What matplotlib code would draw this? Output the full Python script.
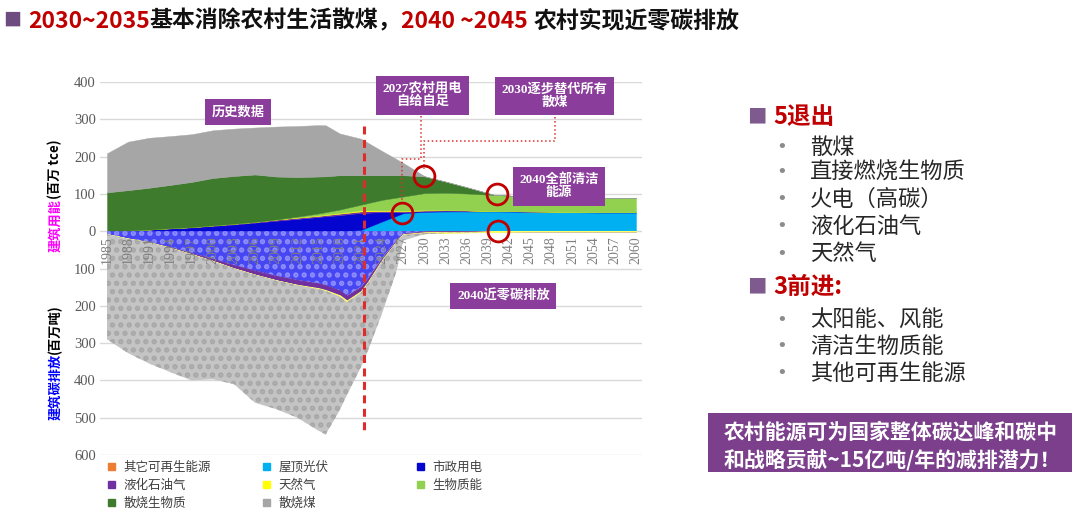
import numpy as np
import matplotlib.pyplot as plt
from matplotlib.patches import Patch, Rectangle
from matplotlib.transforms import IdentityTransform

plt.rcParams['font.family'] = ['Noto Sans CJK SC', 'DejaVu Sans']
plt.rcParams['hatch.linewidth'] = 2.6

# 建筑用能 (百万 tce), stacked bottom -> top
years = [1985, 1988, 1991, 1994, 1997, 2000, 2003, 2006, 2009, 2012, 2015, 2016, 2018,
         2021, 2024, 2027, 2030, 2033, 2036, 2040, 2045, 2050, 2055, 2060]
other_re = [0, 0, 0, 0, 0, 0, 0, 0, 0, 0, 0, 0, 0, 0, 1, 2, 2, 2, 2, 2, 2, 2, 2, 2]
rooftop_pv = [0, 0, 0, 0, 0, 0, 0, 0, 0, 0, 0, 0, 0, 3, 25, 46, 50, 51, 51, 51, 50, 49, 48, 48]
grid_power = [0, 2, 4, 7, 10, 14, 18, 23, 28, 33, 38, 40, 43, 46, 25, 3, 2, 2, 2, 1, 1, 1, 1, 1]
lpg = [0, 0, 0.5, 1, 1, 1.5, 2, 2, 3, 3, 3, 3, 4, 4, 3, 2, 1.5, 1, 0.5, 0, 0, 0, 0, 0]
natural_gas = [0, 0, 0, 0, 0, 0, 0, 0, 0.5, 1, 1.5, 2, 2, 3, 2, 2, 1.5, 1, 0.5, 0, 0, 0, 0, 0]
bio_energy = [0, 0, 0, 0, 0, 0, 0, 0, 0, 2, 5, 6, 9, 15, 28, 38, 45, 46, 45, 43, 40, 39, 38, 38]
loose_biomass = [104, 108, 112, 116, 121, 127, 128, 127, 115, 106, 99, 96, 92,
                 79, 66, 57, 45, 30, 17, 0, 0, 0, 0, 0]
loose_coal = [105, 130, 134, 131, 128, 128, 127, 126, 134, 137, 138, 137, 112,
              98, 65, 33, 1, 0, 0, 0, 0, 0, 0, 0]

# 建筑碳排放 (百万吨), stacked downward from 0
em_years = [1985, 1988, 1991, 1994, 1997, 2000, 2003, 2006, 2009, 2012, 2015, 2016, 2018, 2019,
            2021, 2022, 2024, 2026, 2027, 2030, 2033, 2036, 2040, 2045, 2060]
em_grid = [8, 20, 29, 43, 59, 74, 91, 106, 120, 131, 140, 145, 159, 173,
           149, 126, 72, 25, 6, 1, 0.5, 0.5, 0, 0, 0]
em_lpg = [0, 0, 1, 2, 3, 6, 9, 11, 12, 13, 13, 13, 13, 13, 12, 10, 5, 3, 2, 2, 2, 1.5, 0.5, 0, 0]
em_gas = [0, 0, 0, 0, 0, 0, 0, 0, 0, 1, 2, 2, 3, 4, 4, 4, 3, 2, 2, 2, 1.5, 1, 0.5, 0, 0]
em_coal = [282, 307, 325, 333, 338, 317, 310, 343, 345, 355, 380, 385, 305, 250,
           200, 180, 140, 80, 15, 3, 1, 1, 0, 0, 0]

labels = ['其它可再生能源', '屋顶光伏', '市政用电', '液化石油气', '天然气', '生物质能', '散烧生物质', '散烧煤']
colors = ['#ED7D31', '#00B0F0', '#0505D0', '#7030A0', '#FFFF00', '#92D050', '#3E7B2C', '#A6A6A6']

tick_years = list(range(1985, 2061, 3))
y_ticks = list(range(-600, 401, 100))

W, H = 1080, 521
fig = plt.figure(figsize=(W / 100, H / 100), dpi=100)
ax = fig.add_axes([100 / W, 1 - 455 / H, 542 / W, 373 / H])

for v in y_ticks:
    ax.axhline(v, color='#D9D9D9', lw=1, zorder=0)

ax.stackplot(years, other_re, rooftop_pv, grid_power, lpg, natural_gas, bio_energy,
             loose_biomass, loose_coal, colors=colors, edgecolor='face', lw=0.3)

em = ax.stackplot(em_years, -np.array(em_grid), -np.array(em_lpg), -np.array(em_gas),
                  -np.array(em_coal), colors=['#4646F2', '#7030A0', '#FFFF66', '#C4C4C4'],
                  hatch=['..', None, None, '..'], lw=0)
em[0].set_edgecolor('#8E8EFF')
em[3].set_edgecolor('#A8A8A8')
em[1].set_edgecolor('#7030A0')
em[1].set_linewidth(0.8)
em[2].set_edgecolor('#FFFF66')
em[2].set_linewidth(0.8)

ax.set_xlim(1985 - 7 / 7.05, 2060 + 6 / 7.05)
ax.set_ylim(-600, 400)
for s in ax.spines.values():
    s.set_visible(False)
ax.spines['bottom'].set_position(('data', 0))
ax.set_yticks(y_ticks)
ax.set_yticklabels([str(abs(v)) for v in y_ticks], fontfamily='Liberation Serif',
                   fontsize=10.5, color='#595959')
ax.set_xticks(tick_years)
ax.set_xticklabels([str(y) for y in tick_years], rotation=90, fontfamily='Liberation Serif',
                   fontsize=10, color='#7F7F7F')
ax.tick_params(axis='both', length=0)
ax.tick_params(axis='x', pad=3.5)
ax.tick_params(axis='y', pad=3)

# 2021 divider, circles and leader lines
ax.plot([2021.4, 2021.4], [282, -545], color='#E02B2B', lw=2.2, ls=(0, (2.6, 1.8)), zorder=5)
for cx, cy in [(2026.8, 48), (2030, 148), (2040.3, 99), (2040.4, 1)]:
    ax.plot(cx, cy, 'o', ms=15, mfc='none', mec='#C00000', mew=2, zorder=6)
ax.plot([2029.5, 2029.5, 2026.8, 2026.8], [308, 193, 193, 72], color='#E03030', lw=1.1, ls=':', zorder=5)
ax.plot([2048.5, 2048.5, 2030, 2030], [305, 241, 241, 168], color='#E03030', lw=1.1, ls=':', zorder=5)

box = dict(boxstyle='square,pad=0.5', fc='#8B3D9B', ec='none')
fam = ['Liberation Serif', 'Noto Sans CJK SC']
for tx, ty, s in [(2003.6, 319, '历史数据'), (2029.7, 364, '2027农村用电\n自给自足'),
                  (2048.5, 362, '2030逐步替代所有\n散煤'), (2049.1, 120, '2040全部清洁\n能源'),
                  (2041.2, -174, '2040近零碳排放')]:
    ax.text(tx, ty, s, ha='center', va='center', color='white', fontsize=9.5, fontweight='bold',
            family=fam, linespacing=1.05, bbox=box, zorder=7)

# legend, three columns
handles = [Patch(color=c) for c in colors]
cols = [[0, 3, 6], [1, 4, 7], [2, 5]]
for xpix, idx in zip([108, 263, 417], cols):
    fig.legend([handles[i] for i in idx], [labels[i] for i in idx], loc='upper left',
               bbox_to_anchor=(xpix / W, 1 - 461 / H), frameon=False, fontsize=9,
               handlelength=0.55, handleheight=0.55, handletextpad=0.7, labelspacing=0.4,
               borderpad=0, borderaxespad=0, labelcolor='#404040')

r = fig.canvas.get_renderer()


def chain(x, y, parts, vertical=False, **kw):
    for s, c in parts:
        t = fig.text(x, H - y if not vertical else y, s, color=c, transform=IdentityTransform(), **kw)
        bb = t.get_window_extent(r)
        if vertical:
            y += bb.height
        else:
            x += bb.width


# axis titles
chain(55, H - 252, [('建筑用能', '#FF00FF'), ('(百万 tce)', 'black')], vertical=True,
      rotation=90, ha='center', va='bottom', fontsize=9.5, fontweight='bold')
chain(55, H - 420, [('建筑碳排放', '#0000FF'), ('(百万吨)', 'black')], vertical=True,
      rotation=90, ha='center', va='bottom', fontsize=9.5, fontweight='bold')

# title
fig.text(3 / W, 1 - 21 / H, '■', color='#6E4C80', fontsize=13, va='center')
chain(28, 21, [('2030~2035', '#C00000'), ('基本消除农村生活散煤，', '#111111'),
               ('2040 ~2045 ', '#C00000'), ('农村实现近零碳排放', '#111111')],
      fontsize=16.5, fontweight='bold', va='center')

# right panel
for yy, head in [(117, '5退出'), (287, '3前进:')]:
    fig.text(747 / W, 1 - yy / H, '■', color='#7E5A8E', fontsize=14, va='center')
    fig.text(773 / W, 1 - yy / H, head, color='#C00000', fontsize=17, fontweight='bold', va='center')
items = [(147, '散煤'), (172, '直接燃烧生物质'), (199, '火电（高碳）'), (226, '液化石油气'),
         (254, '天然气'), (320, '太阳能、风能'), (346, '清洁生物质能'), (373, '其他可再生能源')]
for yy, s in items:
    fig.text(782 / W, 1 - yy / H, '•', color='#8C8C8C', fontsize=13, va='center', ha='center',
             family='DejaVu Sans')
    fig.text(810 / W, 1 - yy / H, s, color='#262626', fontsize=16, va='center')

fig.patches.append(Rectangle((708 / W, 1 - 472 / H), 364 / W, 59 / H, transform=fig.transFigure,
                             fc='#7B3F8C', ec='none'))
fig.text(724 / W, 1 - 432 / H, '农村能源可为国家整体碳达峰和碳中', color='white', fontsize=15,
         fontweight='bold', va='center')
fig.text(724 / W, 1 - 460 / H, '和战略贡献~15亿吨/年的减排潜力！', color='white', fontsize=15,
         fontweight='bold', va='center')

fig.savefig('out.png', dpi=100)
